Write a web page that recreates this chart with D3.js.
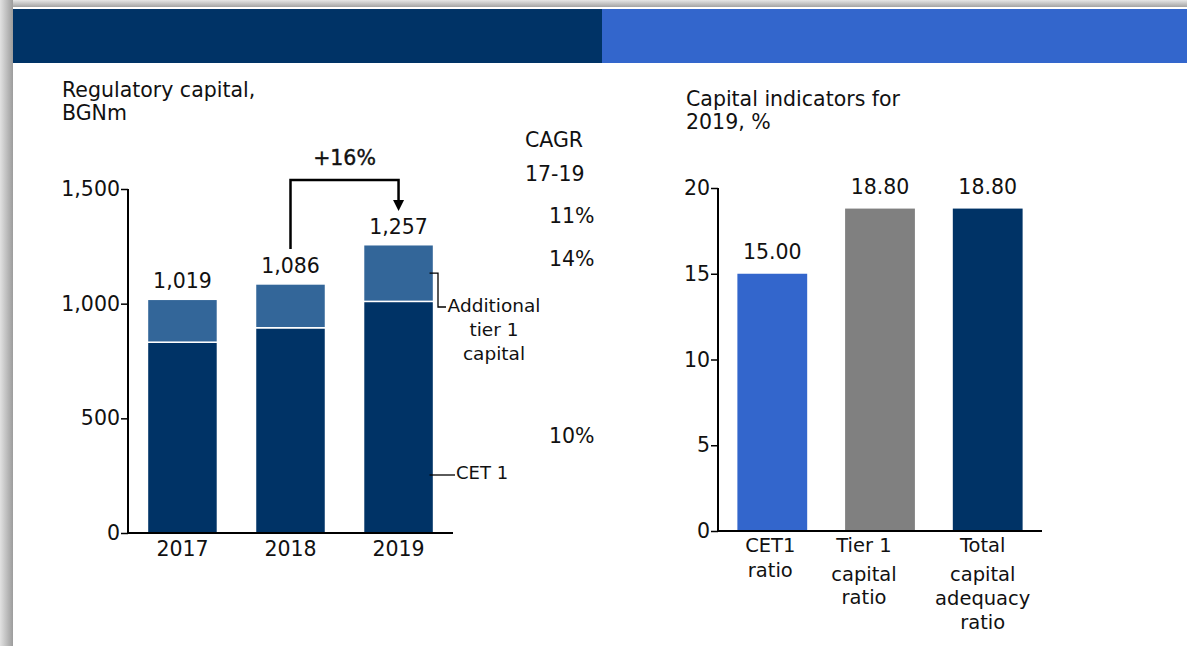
<!DOCTYPE html>
<html>
<head>
<meta charset="utf-8">
<script src="https://cdn.jsdelivr.net/npm/d3@7"></script>
<style>
  html, body { margin: 0; padding: 0; background: #fff; }
  svg { display: block; }
  text { font-family: "DejaVu Sans", Verdana, sans-serif; fill: #111; }
</style>
</head>
<body>
<svg id="chart" width="1187" height="646"></svg>
<script>
// ---------- data ----------
const years = ["2017", "2018", "2019"];
const cet1Values = [832, 895, 1010];
const at1Values = [187, 191, 247];
const totalLabels = ["1,019", "1,086", "1,257"];
const leftTicks = [0, 500, 1000, 1500];
const leftTitle = ["Regulatory capital,", "BGNm"];
const cagrHeader = ["CAGR", "17-19"];
const cagrTotal = "11%";
const cagrAt1 = "14%";
const cagrCet1 = "10%";
const growthLabel = "+16%";
const at1Legend = ["Additional", "tier 1", "capital"];
const cet1Legend = "CET 1";

const ratioCategories = ["CET1 ratio", "Tier 1 capital ratio", "Total capital adequacy ratio"];
const ratioLabelLines = [["CET1", "ratio"], ["Tier 1", "capital", "ratio"], ["Total", "capital", "adequacy", "ratio"]];
const ratioValues = [15.00, 18.80, 18.80];
const ratioLabels = ["15.00", "18.80", "18.80"];
const rightTicks = [0, 5, 10, 15, 20];
const rightTitle = ["Capital indicators for", "2019, %"];

// ---------- styles / layout ----------
const C = { navy: "#003366", mid: "#336699", blue: "#3366CC", grey: "#808080" };
const ratioColors = [C.blue, C.grey, C.navy];
const FS = 20.5;

const svg = d3.select("#chart");
const defs = svg.append("defs");
const gTop = defs.append("linearGradient").attr("id", "gTop").attr("x1", 0).attr("y1", 0).attr("x2", 0).attr("y2", 1);
gTop.append("stop").attr("offset", "0%").attr("stop-color", "#e6e6e6");
gTop.append("stop").attr("offset", "100%").attr("stop-color", "#a4a4a4");
const gLeft = defs.append("linearGradient").attr("id", "gLeft").attr("x1", 0).attr("y1", 0).attr("x2", 1).attr("y2", 0);
gLeft.append("stop").attr("offset", "0%").attr("stop-color", "#e2e2e2");
gLeft.append("stop").attr("offset", "100%").attr("stop-color", "#9c9c9c");

// slide shadow + background
svg.append("rect").attr("x", 0).attr("y", 0).attr("width", 1187).attr("height", 7).attr("fill", "url(#gTop)");
svg.append("rect").attr("x", 0).attr("y", 0).attr("width", 13).attr("height", 646).attr("fill", "url(#gLeft)");
svg.append("rect").attr("x", 13).attr("y", 7).attr("width", 1174).attr("height", 639).attr("fill", "#fff");
// header bands
svg.append("rect").attr("x", 13).attr("y", 9).attr("width", 589).attr("height", 54).attr("fill", C.navy);
svg.append("rect").attr("x", 602).attr("y", 9).attr("width", 585).attr("height", 54).attr("fill", C.blue);

function lines(g, arr, x, ys, anchor, fs) {
  arr.forEach((l, i) => g.append("text").attr("x", x).attr("y", ys[i])
    .attr("font-size", fs || FS).attr("text-anchor", anchor || "start").text(l));
}

// ================= LEFT CHART =================
const L = svg.append("g");
const xL = d3.scaleBand().domain(years).range([128, 453]).paddingInner(0.352).paddingOuter(0.18);
const yL = d3.scaleLinear().domain([0, 1500]).range([533, 189]);

lines(L, leftTitle, 62, [97, 120]);

const stackData = years.map((y, i) => ({ year: y, cet1: cet1Values[i], at1: at1Values[i] }));
const series = d3.stack().keys(["cet1", "at1"])(stackData);
const segColors = { cet1: C.navy, at1: C.mid };
L.selectAll("g.series").data(series).join("g").attr("class", "series")
  .attr("fill", d => segColors[d.key])
  .selectAll("rect").data(d => d).join("rect")
  .attr("x", d => xL(d.data.year))
  .attr("width", xL.bandwidth())
  .attr("y", d => yL(d[1]))
  .attr("height", d => yL(d[0]) - yL(d[1]))
  .attr("stroke", "#fff").attr("stroke-width", 1.5);

// total labels
L.selectAll("text.tot").data(stackData).join("text").attr("class", "tot")
  .attr("x", d => xL(d.year) + xL.bandwidth() / 2)
  .attr("y", d => yL(d.cet1 + d.at1) - 11)
  .attr("text-anchor", "middle").attr("font-size", FS)
  .text((d, i) => totalLabels[i]);

// axes
const axL = L.append("g").attr("transform", "translate(128,0)")
  .call(d3.axisLeft(yL).tickValues(leftTicks).tickFormat(d3.format(",")).tickSize(7).tickPadding(1));
axL.select(".domain").attr("d", `M0,${yL(1500)}V${yL(0)}`).attr("stroke", "#000").attr("stroke-width", 2);
axL.selectAll(".tick line").attr("stroke", "#000").attr("stroke-width", 1.5);
axL.selectAll(".tick text").attr("font-size", FS).attr("font-family", "DejaVu Sans").attr("fill", "#111");

const axLx = L.append("g").attr("transform", `translate(0,${yL(0)})`)
  .call(d3.axisBottom(xL).tickSize(0).tickPadding(8));
axLx.select(".domain").attr("d", "M128,0H453").attr("stroke", "#000").attr("stroke-width", 2);
axLx.selectAll(".tick text").attr("font-size", FS).attr("font-family", "DejaVu Sans").attr("fill", "#111");

// growth arrow
const x18 = xL("2018") + xL.bandwidth() / 2, x19 = xL("2019") + xL.bandwidth() / 2;
L.append("path").attr("d", `M${x18},249V180H${x19}V201`).attr("fill", "none").attr("stroke", "#000").attr("stroke-width", 2.5);
L.append("path").attr("d", `M${x19 - 5.5},200L${x19 + 5.5},200L${x19},211Z`).attr("fill", "#000");
L.append("text").attr("x", (x18 + x19) / 2).attr("y", 165).attr("text-anchor", "middle")
  .attr("font-size", FS).attr("stroke", "#111").attr("stroke-width", 0.4).text(growthLabel);

// CAGR column
L.append("text").attr("x", 525).attr("y", 147).attr("font-size", FS).text(cagrHeader[0]);
L.append("text").attr("x", 525).attr("y", 181).attr("font-size", FS).text(cagrHeader[1]);
L.append("text").attr("x", 549).attr("y", 223).attr("font-size", FS).text(cagrTotal);
L.append("text").attr("x", 549).attr("y", 266).attr("font-size", FS).text(cagrAt1);
L.append("text").attr("x", 549).attr("y", 443).attr("font-size", FS).text(cagrCet1);

// legend leaders
const bar19Right = xL("2019") + xL.bandwidth();
const at1Mid = yL(cet1Values[2] + at1Values[2] / 2);
L.append("path").attr("d", `M${bar19Right - 4},${at1Mid}H438V307H446`).attr("fill", "none").attr("stroke", "#000").attr("stroke-width", 1.3);
lines(L, at1Legend, 494, [312, 336, 360], "middle", 18.5);
L.append("path").attr("d", `M${bar19Right - 4},475H455`).attr("fill", "none").attr("stroke", "#000").attr("stroke-width", 1.3);
L.append("text").attr("x", 456).attr("y", 479).attr("font-size", 18).text(cet1Legend);

// ================= RIGHT CHART =================
const R = svg.append("g");
const xR = d3.scaleBand().domain(ratioCategories).range([718, 1042]).paddingInner(0.352).paddingOuter(0.18);
const yR = d3.scaleLinear().domain([0, 20]).range([531, 188]);

lines(R, rightTitle, 686, [106, 129]);

const ratioData = ratioCategories.map((c, i) => ({ cat: c, v: ratioValues[i], color: ratioColors[i], label: ratioLabels[i] }));
R.selectAll("rect.bar").data(ratioData).join("rect").attr("class", "bar")
  .attr("x", d => xR(d.cat)).attr("width", xR.bandwidth())
  .attr("y", d => yR(d.v)).attr("height", d => yR(0) - yR(d.v))
  .attr("fill", d => d.color);
R.selectAll("text.val").data(ratioData).join("text").attr("class", "val")
  .attr("x", d => xR(d.cat) + xR.bandwidth() / 2)
  .attr("y", d => yR(d.v) - 15)
  .attr("text-anchor", "middle").attr("font-size", FS).text(d => d.label);

const axR = R.append("g").attr("transform", "translate(718,0)")
  .call(d3.axisLeft(yR).tickValues(rightTicks).tickSize(7).tickPadding(1));
axR.select(".domain").attr("d", `M0,${yR(20)}V${yR(0)}`).attr("stroke", "#000").attr("stroke-width", 2);
axR.selectAll(".tick line").attr("stroke", "#000").attr("stroke-width", 1.5);
axR.selectAll(".tick text").attr("font-size", FS).attr("font-family", "DejaVu Sans").attr("fill", "#111");
R.append("path").attr("d", `M718,${yR(0)}H1042`).attr("stroke", "#000").attr("stroke-width", 2);

// category labels (multi-line)
const labelDx = [-2, -16, -5];
const lineY = [[552, 577], [552, 581, 604], [552, 581, 605, 629]];
ratioData.forEach((d, i) => {
  const cx = xR(d.cat) + xR.bandwidth() / 2 + labelDx[i];
  lines(R, ratioLabelLines[i], cx, lineY[i], "middle", 19.5);
});
</script>
</body>
</html>
